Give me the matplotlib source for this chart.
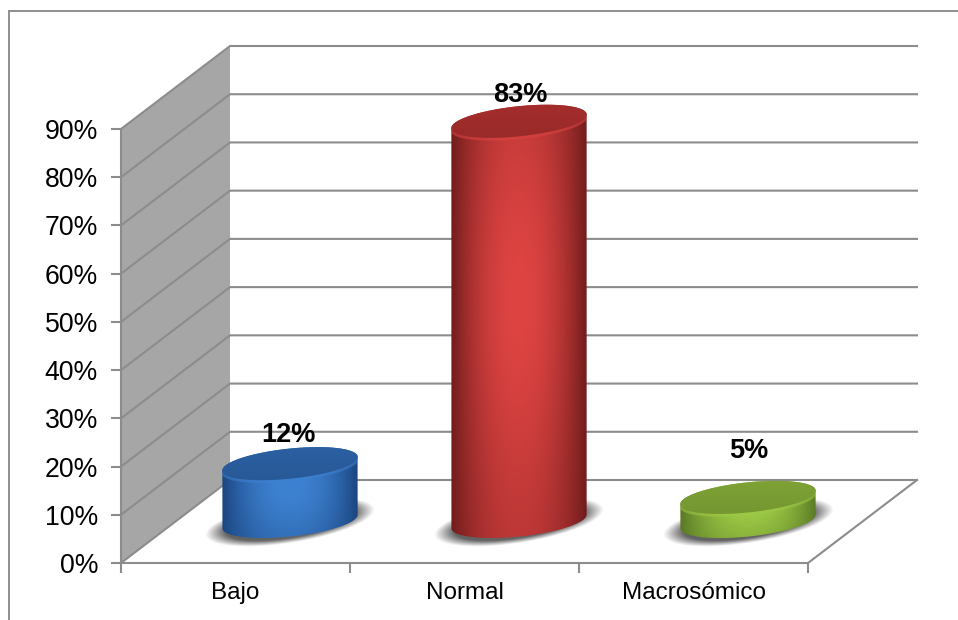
import matplotlib
matplotlib.use('Agg')
import matplotlib.pyplot as plt
import numpy as np
from matplotlib.colors import to_rgb
from matplotlib.patches import PathPatch, Polygon, Rectangle
from matplotlib.path import Path

categories = ['Bajo', 'Normal', 'Macrosómico']
values = [12, 83, 5]
labels = ['12%', '83%', '5%']
label_gaps = [29, 26, 46.5]
label_shift = [-2, 1, 1]
y_ticks = [0, 10, 20, 30, 40, 50, 60, 70, 80, 90]

# edge, centre, top of each cylinder
edge_colors = ['#1b457f', '#701c1c', '#587824']
center_colors = ['#3d82d2', '#de4442', '#9ecb46']
top_colors = ['#2a5d9e', '#a02c2b', '#7b9e34']

W, H = 958, 620
TILT = 6
plt.rcParams['font.family'] = ['Liberation Sans', 'DejaVu Sans']

fig = plt.figure(figsize=(W / 100, H / 100), dpi=100)
ax = fig.add_axes([121 / W, 1 - 563 / H, 687 / W, 434 / H])
ax.patch.set_alpha(0)

# pixel sizes of one data unit
sx = 687 / 3
sy = 434 / 90
# depth of the 3d box
dx = 109 / sx
dy = 83 / sy
grid_col = '#8c8c8c'

# left wall, floor and gridlines
ax.add_patch(Polygon([(0, 0), (dx, dy), (dx, 90 + dy), (0, 90)], fc='#a6a6a6', ec='none', zorder=1, clip_on=False))
for v in y_ticks:
    ax.plot([0, dx, 3 + dx], [v, v + dy, v + dy], color=grid_col, lw=1.5, zorder=1.5, clip_on=False)
ax.plot([3, 3 + dx], [0, dy], color=grid_col, lw=1.5, zorder=1.5, clip_on=False)


def ellipse(cx, cy, a, b, angle=TILT):
    # tilted ellipse, built in pixels and returned in data units
    t = np.linspace(0, 2 * np.pi, 241)[:-1]
    th = np.radians(angle)
    px = a * np.cos(t) * np.cos(th) - b * np.sin(t) * np.sin(th)
    py = a * np.cos(t) * np.sin(th) + b * np.sin(t) * np.cos(th)
    return cx + px / sx, cy + py / sy


def clip_to(artist, x, y):
    # clip to an outline; the clip box has to be the whole figure or the axes box cuts the tall bar
    verts = np.column_stack([x, y])
    p = PathPatch(Path(np.vstack([verts, verts[0]]), closed=True), fc='none', ec='none', transform=ax.transData)
    ax.add_patch(p)
    p.set_clip_on(False)
    artist.set_clip_path(p)
    artist.set_clip_box(fig.bbox)


def cylinder(cx, base, value, c_edge, c_mid, c_top):
    a, b = 68, 15
    top = base + value

    # soft shadow on the floor
    gx = np.linspace(cx - 100 / sx, cx + 100 / sx, 220)
    gy = np.linspace(base - 36 / sy, base + 36 / sy, 100)
    xx, yy = np.meshgrid(gx, gy)
    u = (xx - cx) * sx
    w = (yy - base) * sy
    th = np.radians(9)
    ru = (u * np.cos(th) + w * np.sin(th)) / 86
    rw = (-u * np.sin(th) + w * np.cos(th)) / 21
    r = np.sqrt(ru ** 2 + rw ** 2)
    shadow = np.zeros(xx.shape + (4,))
    shadow[..., :3] = 0.28
    shadow[..., 3] = np.clip((1 - r) / 0.24, 0, 1) * 0.85
    ax.imshow(shadow, extent=[gx[0], gx[-1], gy[0], gy[-1]], origin='lower', aspect='auto', zorder=3, clip_on=False)

    # body outline: lower arc of the base plus upper arc of the top
    bx, by = ellipse(cx, base, a, b)
    tx, ty = ellipse(cx, top, a, b)
    nx = (bx - cx) * sx
    ny = (by - base) * sy
    side = ny - nx * np.tan(np.radians(TILT))
    low = np.where(side < 0)[0]
    upp = np.where(side >= 0)[0]
    low = low[np.argsort(bx[low])]
    upp = upp[np.argsort(-tx[upp])]
    body_x = np.r_[bx[low], tx[upp]]
    body_y = np.r_[by[low], ty[upp]]

    # round shading: bright in the middle, dark at the sides and the ends
    ux = np.linspace(-1, 1, 256)
    vy = np.linspace(0, 1, 200)
    hx, hy = np.meshgrid(ux, vy)
    shade = np.clip(1 - np.abs(hx) ** 2.1, 0, 1) * (0.6 + 0.4 * np.exp(-((hy - 0.55) / 0.45) ** 2))
    e = np.array(to_rgb(c_edge))
    m = np.array(to_rgb(c_mid))
    body = e + shade[..., None] * (m - e)
    im = ax.imshow(body, extent=[cx - a / sx, cx + a / sx, base - 20 / sy, top + 20 / sy],
                   origin='lower', aspect='auto', zorder=4)
    clip_to(im, body_x, body_y)

    # light rim just under the top face
    rx, ry = ellipse(cx, top - 1.5 / sy, a, b)
    rim_line, = ax.plot(rx[low], ry[low], color=c_mid, lw=2, alpha=0.55, zorder=5)
    clip_to(rim_line, body_x, body_y)

    # top face, a little darker towards the lower left
    face_rgb = np.array(to_rgb(c_top))
    grad = np.linspace(0.95, 1.03, 64)[:, None, None] * face_rgb
    face = ax.imshow(np.clip(grad, 0, 1), extent=[cx - a / sx, cx + a / sx, top - 18 / sy, top + 18 / sy],
                     origin='lower', aspect='auto', zorder=6)
    clip_to(face, tx, ty)


for i, v in enumerate(values):
    cx = i + 0.5 + dx / 2
    cylinder(cx, dy / 2, v, edge_colors[i], center_colors[i], top_colors[i])
    ax.text(cx + label_shift[i] / sx, v + dy / 2 + label_gaps[i] / sy, labels[i], ha='center', va='center',
            fontsize=19.5, fontweight='bold', color='black', zorder=8, clip_on=False)

ax.set_xlim(0, 3)
ax.set_ylim(0, 90)

for s in ['top', 'right']:
    ax.spines[s].set_visible(False)
for s in ['left', 'bottom']:
    ax.spines[s].set_color(grid_col)
    ax.spines[s].set_linewidth(1.5)
    ax.spines[s].set_zorder(2)

ax.set_yticks(y_ticks)
ax.set_yticklabels([f'{v}%' for v in y_ticks], fontsize=19.2, color='black')
ax.set_xticks([0, 1, 2, 3])
ax.set_xticklabels([])
ax.set_xticks([0.5, 1.5, 2.5], minor=True)
ax.set_xticklabels(categories, minor=True, fontsize=17.5, color='black')
ax.tick_params(axis='y', length=7, width=1.5, color=grid_col, pad=9.5)
ax.tick_params(axis='x', which='major', length=7, width=1.5, color=grid_col)
ax.tick_params(axis='x', which='minor', length=0, pad=14)

# chart frame, running off the right and bottom edges
fig.add_artist(Rectangle((8.5 / W, -0.1), 980 / W, 1 - 10.5 / H + 0.1, transform=fig.transFigure,
                         fc='none', ec='#8f8f8f', lw=1.4, zorder=10))

fig.savefig('out.png', dpi=100)
